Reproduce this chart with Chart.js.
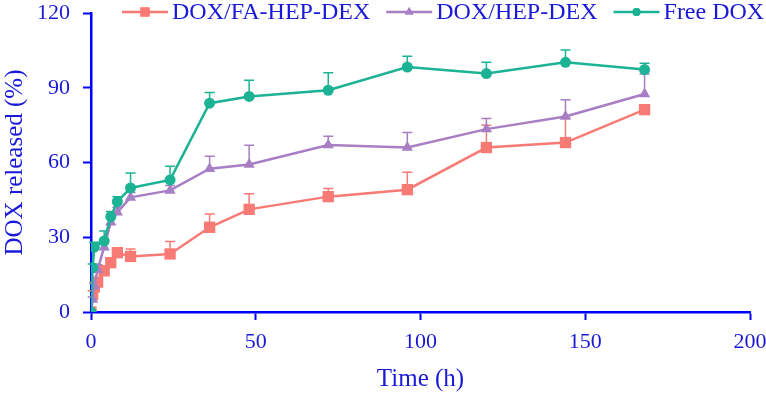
<!DOCTYPE html>
<html lang="en">
  <head>
    <meta charset="UTF-8" />
    <title>DOX release</title>
    <script src="https://cdn.jsdelivr.net/npm/chart.js@4.4.0/dist/chart.umd.min.js"></script>
    <style>
      html, body { margin: 0; padding: 0; background: #fff; }
      #wrap { width: 766px; height: 394px; }
    </style>
  </head>
  <body>
    <div id="wrap"><canvas id="releaseChart"></canvas></div>

    <script>
      // time points (h)
      const times = [0, 0.5, 1, 2, 4, 6, 8, 12, 24, 36, 48, 72, 96, 120, 144, 168];

      // cumulative release (%) and upper error
      const faHepDex = [0, 7, 10, 12, 16.5, 19.8, 23.8, 22.3, 23.3, 34, 41.2, 46.3, 49.1, 66, 68, 81.2];
      const faHepDexErr = [0, 1.5, 1.5, 1.5, 2, 2, 2, 3, 5, 5.3, 6.3, 3.3, 7, 9, 10, 2];

      const hepDex = [0, 5, 10.4, 17, 26, 36, 40, 46, 48.8, 57.5, 59.2, 67, 66, 73.4, 78.5, 87.5];
      const hepDexErr = [0, 1, 1.5, 2, 3, 2, 2, 2, 2, 5, 7.7, 3.5, 6, 4.3, 6.7, 8];

      const freeDox = [0, 17.8, 26, null, 28.5, 38.3, 44.3, 49.8, 53, 83.8, 86.5, 89, 98.3, 95.7, 100.2, 97.3];
      const freeDoxErr = [0, 1.5, 2, null, 4, 2, 2, 6, 5.5, 4.3, 6.5, 7, 4.3, 4.5, 5, 2.5];

      const xTicks = [0, 50, 100, 150, 200];
      const yTicks = [0, 30, 60, 90, 120];

      const BLUE = "rgb(0,0,255)";
      const TEXT = "rgb(25,25,215)";
      const FONT = "'Liberation Serif', 'Times New Roman', serif";

      const toPoints = (vals) => times.map((t, i) => ({ x: t, y: vals[i] }));

      const series = [
        { label: "DOX/FA-HEP-DEX", data: faHepDex, err: faHepDexErr, color: "rgb(248,122,116)", style: "rect", radius: 8, order: 3 },
        { label: "DOX/HEP-DEX", data: hepDex, err: hepDexErr, color: "rgb(168,126,196)", style: "triangle", radius: 6.5, order: 2 },
        { label: "Free DOX", data: freeDox, err: freeDoxErr, color: "rgb(28,178,148)", style: "circle", radius: 5.5, order: 1 },
      ];

      // upper error bars, drawn under the markers
      const errorBars = {
        id: "errorBars",
        beforeDatasetsDraw(chart) {
          const ctx = chart.ctx;
          const xs = chart.scales.x, ys = chart.scales.y;
          ctx.save();
          series.forEach((s) => {
            ctx.strokeStyle = s.color;
            ctx.lineWidth = 1.5;
            times.forEach((t, i) => {
              if (s.data[i] == null || !s.err[i]) return;
              const px = xs.getPixelForValue(t);
              const py = ys.getPixelForValue(s.data[i]);
              const pt = ys.getPixelForValue(s.data[i] + s.err[i]);
              ctx.beginPath();
              ctx.moveTo(px, py);
              ctx.lineTo(px, pt);
              ctx.moveTo(px - 5, pt);
              ctx.lineTo(px + 5, pt);
              ctx.stroke();
            });
          });
          ctx.restore();
        },
      };

      // legend across the top, overlapping the plot
      const topLegend = {
        id: "topLegend",
        afterDraw(chart) {
          const ctx = chart.ctx;
          ctx.save();
          ctx.font = "24px " + FONT;
          ctx.textBaseline = "middle";
          let x = 122;
          const y = 12;
          series.forEach((s) => {
            ctx.strokeStyle = s.color;
            ctx.lineWidth = 2.5;
            ctx.beginPath();
            ctx.moveTo(x, y);
            ctx.lineTo(x + 46, y);
            ctx.stroke();
            ctx.fillStyle = s.color;
            Chart.helpers.drawPoint(ctx, { pointStyle: s.style, radius: s.radius - 1.5, rotation: 0, borderWidth: 0 }, x + 23, y);
            ctx.fill();
            ctx.fillStyle = TEXT;
            ctx.fillText(s.label, x + 50, y + 1);
            x += 50 + ctx.measureText(s.label).width + 16;
          });
          ctx.restore();
        },
      };

      const ctx = document.getElementById("releaseChart").getContext("2d");

      new Chart(ctx, {
        type: "line",
        data: {
          datasets: series.map((s) => ({
            label: s.label,
            data: toPoints(s.data),
            borderColor: s.color,
            backgroundColor: s.color,
            borderWidth: 2.5,
            pointStyle: s.style,
            pointRadius: s.radius,
            pointBorderWidth: 0,
            spanGaps: true,
            order: s.order,
          })),
        },
        options: {
          responsive: true,
          maintainAspectRatio: false,
          animation: false,
          layout: { autoPadding: false, padding: { top: 13, right: 16, left: 0, bottom: 0 } },
          plugins: { legend: { display: false }, tooltip: { enabled: false } },
          scales: {
            x: {
              type: "linear",
              min: 0,
              max: 200,
              afterFit: (s) => {
                s.height = 82;
                s.paddingLeft = 0;
                s.paddingRight = 0;
              },
              afterBuildTicks: (s) => { s.ticks = xTicks.map((v) => ({ value: v })); },
              border: { color: BLUE, width: 2.5 },
              grid: { drawOnChartArea: false, tickLength: 8, tickColor: BLUE, tickWidth: 2 },
              ticks: { color: TEXT, padding: 9, maxRotation: 0, font: { family: FONT, size: 22 } },
              title: { display: true, text: "Time (h)", color: TEXT, padding: 0, font: { family: FONT, size: 25 } },
            },
            y: {
              min: 0,
              max: 120,
              afterFit: (s) => {
                s.width = 91;
                s.paddingTop = 0;
                s.paddingBottom = 0;
              },
              afterBuildTicks: (s) => { s.ticks = yTicks.map((v) => ({ value: v })); },
              border: { color: BLUE, width: 2.5 },
              grid: { drawOnChartArea: false, tickLength: 8, tickColor: BLUE, tickWidth: 2 },
              ticks: { color: TEXT, padding: 13, font: { family: FONT, size: 22 } },
              title: { display: true, text: "DOX released (%)", color: TEXT, padding: 0, font: { family: FONT, size: 25 } },
            },
          },
        },
        plugins: [errorBars, topLegend],
      });
    </script>
  </body>
</html>
